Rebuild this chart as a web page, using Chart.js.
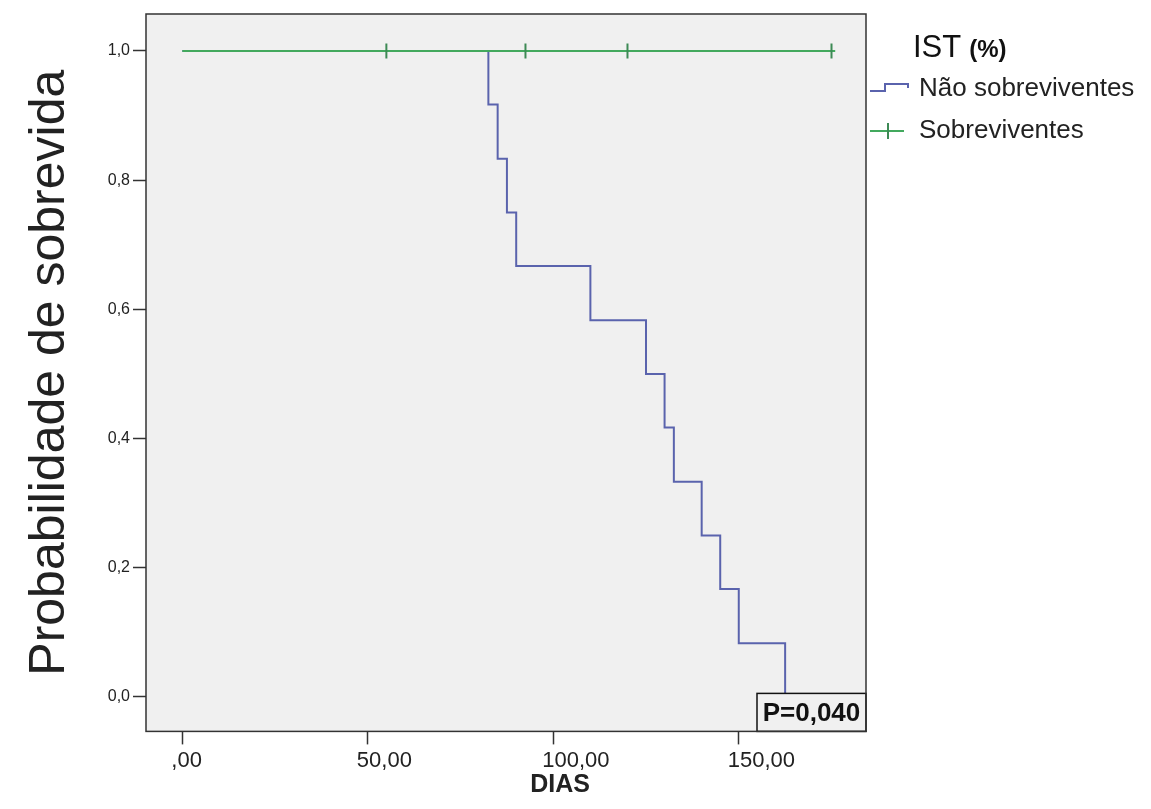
<!DOCTYPE html>
<html><head><meta charset="utf-8">
<script src="https://cdn.jsdelivr.net/npm/chart.js@4.4.1/dist/chart.umd.min.js"></script>
<style>html,body{margin:0;padding:0;background:#fff}#wrap{width:1151px;height:809px;position:relative}</style>
</head><body><div id="wrap"><canvas id="c"></canvas></div>
<script>
// ---- data ----
const legendTitleMain = 'IST';
const legendTitleUnit = '(%)';
const seriesNames = ['Não sobreviventes', 'Sobreviventes'];
const naoTimes = [0, 82.5, 85, 87.5, 90, 110, 125, 130, 132.5, 140, 145, 150, 162.5];
const naoSurv  = [1, 0.917, 0.833, 0.75, 0.667, 0.583, 0.5, 0.417, 0.333, 0.25, 0.167, 0.083, 0];
const sobTimes = [0, 55, 92.5, 120, 175, 176];
const sobSurv  = [1, 1, 1, 1, 1, 1];
const sobCensored = [false, true, true, true, true, false];
const xTickValues = [0, 50, 100, 150];
const xTickLabels = [',00', '50,00', '100,00', '150,00'];
const yTickValues = [0, 0.2, 0.4, 0.6, 0.8, 1.0];
const yTickLabels = ['0,0', '0,2', '0,4', '0,6', '0,8', '1,0'];
const xTitle = 'DIAS';
const yTitle = 'Probabilidade de sobrevida';
const pValueText = 'P=0,040';

// ---- style ----
const FONT = '"Liberation Sans", Arial, sans-serif';
const BLUE = '#5a63ad';
const GREEN = '#43a95e';
const CENSOR = '#3d8a55';
const PLOT_BG = '#f0f0f0';
const TEXT = '#222';
Chart.defaults.font.family = FONT;
Chart.defaults.color = TEXT;

// layout geometry (plot frame: x 146..866, y 14..732)
const LEG_FONT = 26, LEG_PAD = 16, LEG_BOX = 24;
const mctx = document.createElement('canvas').getContext('2d');
mctx.font = LEG_FONT + 'px ' + FONT;
const maxText = Math.max(...seriesNames.map(s => mctx.measureText(s).width));
const legendW = LEG_PAD + LEG_BOX + LEG_FONT / 2 + maxText + 10;
const padR = 1151 - 866 - legendW;
const padL = padR - 31;

function makeIcon(w, h, fn) {
  const c = document.createElement('canvas');
  c.width = w; c.height = h;
  fn(c.getContext('2d'));
  return c;
}
const stepIcon = makeIcon(48, 14, g => {
  g.strokeStyle = BLUE; g.lineWidth = 2;
  g.beginPath(); g.moveTo(0, 9); g.lineTo(15, 9); g.lineTo(15, 2); g.lineTo(38, 2); g.lineTo(38, 6); g.stroke();
});
const plusIcon = makeIcon(48, 18, g => {
  g.strokeStyle = GREEN; g.lineWidth = 2;
  g.beginPath(); g.moveTo(0, 9); g.lineTo(34, 9); g.stroke();
  g.strokeStyle = CENSOR;
  g.beginPath(); g.moveTo(18, 1); g.lineTo(18, 17); g.stroke();
});

const bgPlugin = {
  id: 'bg',
  beforeDraw(chart) {
    const {ctx, chartArea: a} = chart;
    ctx.save();
    ctx.fillStyle = '#fff';
    ctx.fillRect(0, 0, chart.width, chart.height);
    ctx.fillStyle = PLOT_BG;
    ctx.fillRect(a.left, a.top, a.right - a.left, a.bottom - a.top);
    ctx.restore();
  }
};
const overlayPlugin = {
  id: 'overlay',
  afterDatasetsDraw(chart) {
    const {ctx, chartArea: a} = chart;
    ctx.save();
    const bw = 109, bh = 38;
    ctx.fillStyle = PLOT_BG;
    ctx.fillRect(a.right - bw, a.bottom - bh, bw, bh);
    ctx.strokeStyle = '#111'; ctx.lineWidth = 1.5;
    ctx.strokeRect(a.right - bw, a.bottom - bh, bw, bh);
    ctx.fillStyle = '#111';
    ctx.font = 'bold 26px ' + FONT;
    ctx.textAlign = 'center'; ctx.textBaseline = 'middle';
    ctx.fillText(pValueText, a.right - bw / 2, a.bottom - bh / 2 + 1);
    ctx.strokeStyle = '#333'; ctx.lineWidth = 1.5;
    ctx.strokeRect(a.left, a.top, a.right - a.left, a.bottom - a.top);
    ctx.restore();
  },
  afterDraw(chart) {
    const {ctx} = chart;
    const lg = chart.legend;
    const x0 = lg.left + 47, base = 56.5;
    ctx.save();
    ctx.fillStyle = '#111';
    ctx.textAlign = 'left'; ctx.textBaseline = 'alphabetic';
    ctx.font = '31px ' + FONT;
    ctx.fillText(legendTitleMain, x0, base);
    const w = ctx.measureText(legendTitleMain).width;
    ctx.font = 'bold 24px ' + FONT;
    ctx.fillText(legendTitleUnit, x0 + w + 8, base);
    ctx.restore();
  }
};

const tickGrid = { drawOnChartArea: false, drawTicks: true, tickLength: 13, tickColor: '#333', tickWidth: 1.5 };

new Chart(document.getElementById('c'), {
  type: 'scatter',
  data: {
    datasets: [
      {
        label: seriesNames[0],
        data: naoTimes.map((t, i) => ({x: t, y: naoSurv[i]})),
        showLine: true, stepped: 'before', fill: false,
        borderColor: BLUE, borderWidth: 2,
        pointRadius: 0, pointHoverRadius: 0, order: 1
      },
      {
        label: seriesNames[1],
        data: sobTimes.map((t, i) => ({x: t, y: sobSurv[i]})),
        showLine: true, fill: false,
        borderColor: GREEN, borderWidth: 2,
        pointStyle: 'line', pointRotation: 90,
        pointRadius: sobCensored.map(c => c ? 7.5 : 0), pointHoverRadius: 0,
        pointBorderColor: CENSOR, pointBorderWidth: 2, order: 0
      }
    ]
  },
  options: {
    responsive: true, maintainAspectRatio: false, animation: false, events: [],
    layout: { padding: { left: padL, top: 14, right: padR, bottom: 0 } },
    scales: {
      x: {
        type: 'linear', min: -9.8, max: 184.3,
        afterBuildTicks: s => { s.ticks = xTickValues.map(v => ({value: v})); },
        afterFit: s => { s.height = 38.6; },
        ticks: { align: 'start', labelOffset: -11, padding: 3, color: TEXT, font: {size: 22},
                 callback: v => xTickLabels[xTickValues.indexOf(v)] },
        grid: tickGrid, border: { display: false }
      },
      y: {
        type: 'linear', min: -0.0534, max: 1.0572,
        afterBuildTicks: s => { s.ticks = yTickValues.map(v => ({value: v})); },
        afterFit: s => { s.width = 146 - padL; },
        ticks: { padding: 3, color: TEXT, font: {size: 16},
                 callback: v => yTickLabels[yTickValues.indexOf(v)] },
        grid: tickGrid, border: { display: false },
        title: { display: true, text: yTitle, color: TEXT, font: {size: 50}, padding: {top: 20 - padL, bottom: 0} }
      }
    },
    plugins: {
      tooltip: { enabled: false },
      title: { display: true, position: 'bottom', text: xTitle, color: TEXT,
               font: {size: 25, weight: 'bold', lineHeight: 1.2}, padding: {top: 0, bottom: 9} },
      legend: {
        position: 'right', align: 'start',
        title: { display: true, text: ' ', font: {size: 10, lineHeight: 1}, padding: {top: 36, bottom: 0} },
        labels: {
          usePointStyle: true, pointStyleWidth: LEG_BOX, padding: LEG_PAD, color: TEXT,
          font: {size: LEG_FONT},
          generateLabels: () => [
            { text: seriesNames[0], pointStyle: stepIcon, fillStyle: BLUE, strokeStyle: BLUE, lineWidth: 0, hidden: false, datasetIndex: 0, fontColor: TEXT },
            { text: seriesNames[1], pointStyle: plusIcon, fillStyle: GREEN, strokeStyle: GREEN, lineWidth: 0, hidden: false, datasetIndex: 1, fontColor: TEXT }
          ]
        }
      }
    }
  },
  plugins: [bgPlugin, overlayPlugin]
});
</script>
</body></html>
